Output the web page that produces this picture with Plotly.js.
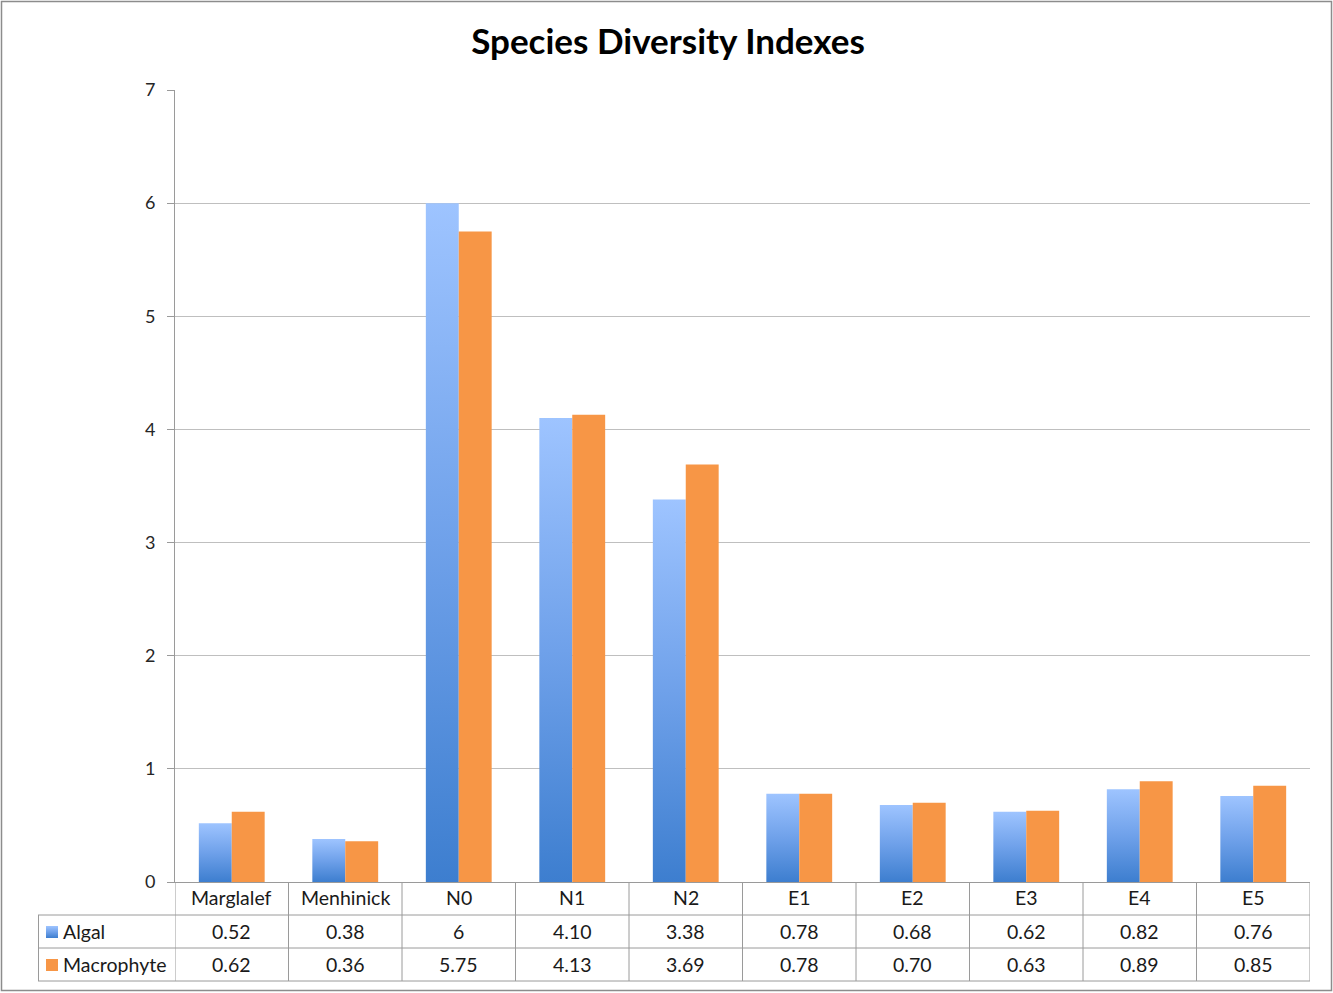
<!DOCTYPE html>
<html>
<head>
<meta charset="utf-8">
<script src="https://cdn.plot.ly/plotly-3.0.1.min.js"></script>
<style>
html,body{margin:0;padding:0;background:#fff;}
#chart{width:1333px;height:993px;}
</style>
</head>
<body>
<div id="chart"></div>
<script>
// ---- data ----
const categories = ["Marglalef","Menhinick","N0","N1","N2","E1","E2","E3","E4","E5"];
const algal = [0.52,0.38,6,4.10,3.38,0.78,0.68,0.62,0.82,0.76];
const macrophyte = [0.62,0.36,5.75,4.13,3.69,0.78,0.70,0.63,0.89,0.85];
const algalLabels = ["0.52","0.38","6","4.10","3.38","0.78","0.68","0.62","0.82","0.76"];
const macrophyteLabels = ["0.62","0.36","5.75","4.13","3.69","0.78","0.70","0.63","0.89","0.85"];
const seriesNames = ["Algal","Macrophyte"];
const yTicks = [0,1,2,3,4,5,6,7];

// ---- layout geometry (pixels) ----
const W = 1333, H = 993;
const L = 175, R = 1310, T = 90, B = 882;
const pw = R - L, ph = B - T;
const px2x = p => (p - L) / pw;
const py2y = p => 1 - (p - T) / ph;

const FONT = "Lato, 'Open Sans', sans-serif";
const TXT = "#1a1a1a";
const LINE = "#9a9a9a";
const ORANGE = "#F79646";
const BLUE_MID = "#6A9DE6";
const TFS = 19.5;

const shapes = [];
const annotations = [];

// outer frame
shapes.push({type:"rect", xref:"paper", yref:"paper",
  x0:px2x(1.5), x1:px2x(1331.5), y0:py2y(1.5), y1:py2y(990.5),
  line:{color:"#8c8c8c", width:1.5}, fillcolor:"rgba(0,0,0,0)"});

// table horizontal lines
[915, 948, 981].forEach(py => {
  shapes.push({type:"line", xref:"paper", yref:"paper",
    x0:px2x(38), x1:px2x(R), y0:py2y(py), y1:py2y(py),
    line:{color:LINE, width:1}});
});
// left column vertical border
shapes.push({type:"line", xref:"paper", yref:"paper",
  x0:px2x(38.5), x1:px2x(38.5), y0:py2y(915), y1:py2y(981),
  line:{color:LINE, width:1}});
// column boundaries
for (let i = 0; i <= categories.length; i++) {
  shapes.push({type:"line", xref:"x", yref:"paper",
    x0:i-0.5, x1:i-0.5, y0:py2y(882), y1:py2y(981),
    line:{color:LINE, width:1}});
}

// header labels and values
categories.forEach((c, i) => {
  annotations.push({x:i, xref:"x", y:py2y(898), yref:"paper", text:c,
    showarrow:false, xanchor:"center", yanchor:"middle",
    font:{family:FONT, size:TFS, color:TXT}});
  annotations.push({x:i, xref:"x", y:py2y(931), yref:"paper", text:algalLabels[i],
    showarrow:false, xanchor:"center", yanchor:"middle",
    font:{family:FONT, size:TFS, color:TXT}});
  annotations.push({x:i, xref:"x", y:py2y(964), yref:"paper", text:macrophyteLabels[i],
    showarrow:false, xanchor:"center", yanchor:"middle",
    font:{family:FONT, size:TFS, color:TXT}});
});

// row labels with legend keys
const keyColors = [BLUE_MID, ORANGE];
[931, 964].forEach((cy, r) => {
  shapes.push({type:"rect", xref:"paper", yref:"paper",
    x0:px2x(46), x1:px2x(58), y0:py2y(cy-5), y1:py2y(cy+7),
    line:{width:0}, fillcolor:keyColors[r]});
  annotations.push({x:px2x(61), xref:"paper", y:py2y(cy), yref:"paper",
    text:seriesNames[r], showarrow:false, xanchor:"left", yanchor:"middle",
    font:{family:FONT, size:TFS, color:TXT}});
});

const traces = [
  {type:"bar", name:seriesNames[0], x:categories, y:algal,
   marker:{color:BLUE_MID, line:{width:0}}, hoverinfo:"x+y"},
  {type:"bar", name:seriesNames[1], x:categories, y:macrophyte,
   marker:{color:ORANGE, line:{width:0}}, hoverinfo:"x+y"}
];

const layout = {
  width:W, height:H,
  margin:{l:L, r:W-R, t:T, b:H-B, pad:0},
  paper_bgcolor:"#ffffff", plot_bgcolor:"#ffffff",
  showlegend:false,
  barmode:"group", bargap:0.42, bargroupgap:0,
  title:{text:"<b>Species Diversity Indexes</b>", x:668/W, xref:"container", xanchor:"center",
    y:1-42/H, yref:"container", yanchor:"middle",
    font:{family:FONT, size:35, color:"#000"}},
  xaxis:{type:"category", range:[-0.5, categories.length-0.5], showticklabels:false,
    ticks:"", showgrid:false, zeroline:false, showline:true, linecolor:LINE, linewidth:1,
    fixedrange:true},
  yaxis:{range:[0,7], tickvals:yTicks, ticks:"outside", ticklen:7, tickcolor:LINE,
    showline:true, linecolor:LINE, linewidth:1, showgrid:true, gridcolor:"#bfbfbf",
    gridwidth:1, zeroline:false, ticklabelstandoff:8,
    tickfont:{family:FONT, size:18, color:"#262626"}, fixedrange:true},
  shapes:shapes, annotations:annotations
};

function applyGradient(gd){
  const svg = gd.querySelector("svg.main-svg");
  if (!svg) return;
  let defs = svg.querySelector("defs");
  if (!defs) { defs = document.createElementNS("http://www.w3.org/2000/svg","defs"); svg.insertBefore(defs, svg.firstChild); }
  if (!svg.querySelector("#algalGrad")) {
    const g = document.createElementNS("http://www.w3.org/2000/svg","linearGradient");
    g.setAttribute("id","algalGrad");
    g.setAttribute("x1","0"); g.setAttribute("y1","0");
    g.setAttribute("x2","0"); g.setAttribute("y2","1");
    [["0%","#9EC4FF"],["50%","#6FA1EA"],["100%","#3D7ECF"]].forEach(s => {
      const st = document.createElementNS("http://www.w3.org/2000/svg","stop");
      st.setAttribute("offset", s[0]); st.setAttribute("stop-color", s[1]);
      g.appendChild(st);
    });
    defs.appendChild(g);
  }
  const tr = gd.querySelectorAll(".barlayer .trace.bars");
  if (tr.length) {
    tr[0].querySelectorAll("path").forEach(p => { p.style.fill = "url(#algalGrad)"; });
  }
  gd.querySelectorAll(".shapelayer path").forEach(p => {
    const f = p.style.fill;
    if (f && (f.indexOf("106, 157, 230") >= 0)) p.style.fill = "url(#algalGrad)";
  });
}

const gd = document.getElementById("chart");
Plotly.newPlot(gd, traces, layout, {displayModeBar:false, staticPlot:true}).then(() => {
  applyGradient(gd);
  gd.on("plotly_afterplot", () => applyGradient(gd));
});
</script>
</body>
</html>
